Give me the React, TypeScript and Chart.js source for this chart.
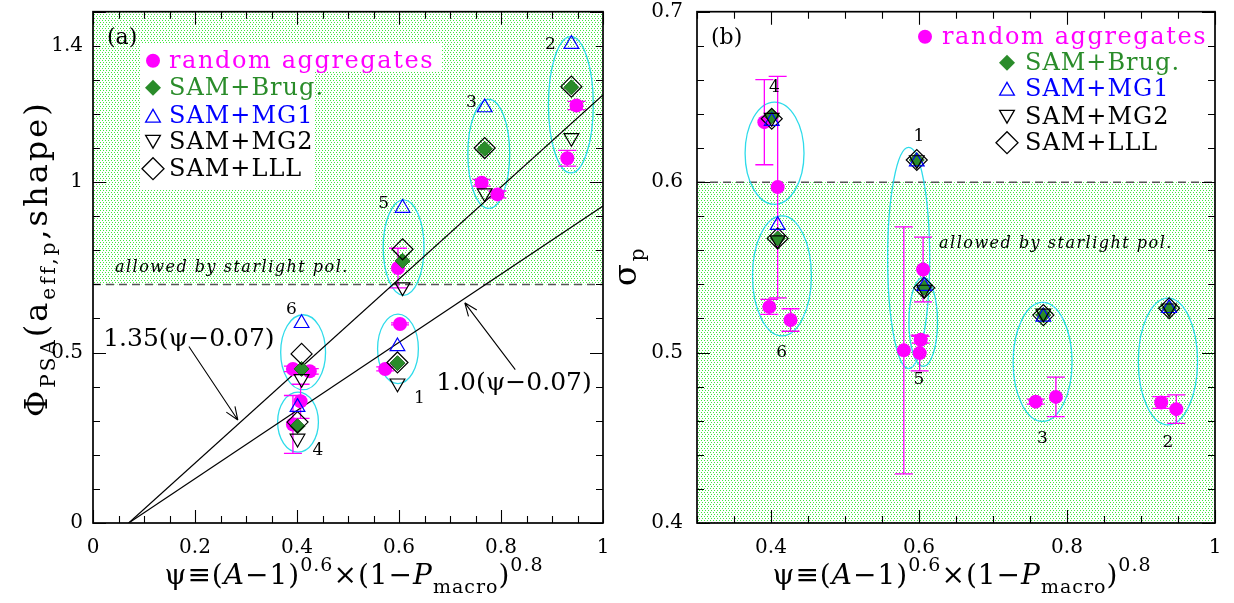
import React, { useEffect, useRef } from "react";
import { Chart, registerables } from "chart.js";

Chart.register(...registerables);

const SERIF = '"DejaVu Serif", "Liberation Serif", serif';
const MAGENTA = "#ff00ff";
const GREEN = "#2a8c2a";
const BLUE = "#0000ff";
const CYAN = "#2edbea";
const HATCH_DOT = "#3ee83e";

// ---------- shared ----------
const CLUSTER_IDS = ["1", "2", "3", "4", "5", "6"];
const SAM_PSI = [0.597, 0.938, 0.768, 0.401, 0.607, 0.409];
const LEGEND_LABELS = ["random aggregates", "SAM+Brug.", "SAM+MG1", "SAM+MG2", "SAM+LLL"];
const LEGEND_COLORS = [MAGENTA, GREEN, BLUE, "#000", "#000"];
const LEGEND_KINDS = ["circle", "brug", "mg1", "mg2", "lll"];
const NOTE_ALLOWED = "allowed by starlight pol.";

// ---------- panel (a) ----------
const A_X_TICKS = [0, 0.2, 0.4, 0.6, 0.8, 1];
const A_X_LABELS = ["0", "0.2", "0.4", "0.6", "0.8", "1"];
const A_Y_TICKS = [0, 0.5, 1, 1.4];
const A_Y_LABELS = ["0", "0.5", "1", "1.4"];
const A_LIMIT = 0.7;
const A_BRUG = [0.469, 1.278, 1.098, 0.284, 0.769, 0.452];
const A_MG1 = [0.518, 1.405, 1.219, 0.34, 0.924, 0.586];
const A_MG2 = [0.41, 1.13, 0.968, 0.248, 0.692, 0.423];
const A_LLL = [0.471, 1.28, 1.1, 0.296, 0.803, 0.496];
const A_RA_PSI = [0.573, 0.602, 0.93, 0.948, 0.762, 0.793, 0.392, 0.407, 0.598, 0.392, 0.425];
const A_RA_PHI = [0.452, 0.584, 1.07, 1.225, 0.998, 0.964, 0.289, 0.357, 0.748, 0.452, 0.445];
const A_RA_ERR = [0.006, 0.003, 0.023, 0.012, 0.01, 0.01, 0.085, 0.05, 0.058, 0.008, 0.008];
const A_FIT_PSI = [0.07, 1.0];
const A_FIT_HI = [0, 1.2555];
const A_FIT_LO = [0, 0.93];
const A_ELL_X = [0.598, 0.937, 0.776, 0.402, 0.609, 0.412];
const A_ELL_Y = [0.511, 1.227, 1.083, 0.296, 0.808, 0.501];
const A_ELL_RX = [0.04, 0.044, 0.041, 0.04, 0.04, 0.044];
const A_ELL_RY = [0.102, 0.2, 0.16, 0.088, 0.14, 0.11];
const A_LAB_X = [0.64, 0.897, 0.742, 0.441, 0.57, 0.389];
const A_LAB_Y = [0.366, 1.405, 1.234, 0.213, 0.937, 0.627];
const A_NOTES = ["1.35(ψ−0.07)", "1.0(ψ−0.07)"];
const A_NOTE_X = [0.02, 0.673];
const A_NOTE_Y = [0.538, 0.41];
const A_ARROW_X0 = [0.188, 0.828];
const A_ARROW_Y0 = [0.518, 0.45];
const A_ARROW_X1 = [0.284, 0.729];
const A_ARROW_Y1 = [0.302, 0.646];
const A_ALLOWED_POS = [0.043, 0.735];

// ---------- panel (b) ----------
const B_X_TICKS = [0.4, 0.6, 0.8, 1];
const B_X_LABELS = ["0.4", "0.6", "0.8", "1"];
const B_Y_TICKS = [0.4, 0.5, 0.6, 0.7];
const B_Y_LABELS = ["0.4", "0.5", "0.6", "0.7"];
const B_LIMIT = 0.6;
const B_BRUG = [0.613, 0.526, 0.522, 0.6387, 0.538, 0.567];
const B_MG1 = [0.612, 0.526, 0.521, 0.6358, 0.539, 0.5748];
const B_MG2 = [0.613, 0.526, 0.523, 0.6378, 0.537, 0.566];
const B_LLL = [0.613, 0.526, 0.522, 0.6372, 0.538, 0.567];
const B_RA_PSI = [0.5795, 0.9273, 0.9477, 0.7577, 0.785, 0.391, 0.409, 0.6055, 0.6023, 0.6009, 0.3977, 0.4264];
const B_RA_SIG = [0.5013, 0.4707, 0.4668, 0.4712, 0.474, 0.6352, 0.5971, 0.5487, 0.5075, 0.4997, 0.5268, 0.5191];
const B_RA_ERR = [0.0725, 0.0034, 0.0084, 0.0015, 0.0116, 0.025, 0.065, 0.019, 0.002, 0.0105, 0.0044, 0.0066];
const B_ELL_X = [0.586, 0.9364, 0.767, 0.4048, 0.6057, 0.4148];
const B_ELL_Y = [0.5555, 0.4948, 0.4945, 0.617, 0.518, 0.545];
const B_ELL_RX = [0.0284, 0.04, 0.0398, 0.0398, 0.0193, 0.0398];
const B_ELL_RY = [0.0649, 0.0372, 0.0349, 0.03, 0.0261, 0.0352];
const B_LAB_X = [0.6, 0.9364, 0.7668, 0.4045, 0.6, 0.4145];
const B_LAB_Y = [0.627, 0.4469, 0.4494, 0.6552, 0.4842, 0.4997];
const B_ALLOWED_POS = [0.627, 0.5613];

type Seg = { t: string; s: number; dy?: number; it?: boolean };
const X_TITLE: Seg[] = [
  { t: "ψ≡(", s: 28 },
  { t: "A", s: 28, it: true },
  { t: "−1)", s: 28 },
  { t: "0.6", s: 19, dy: -13 },
  { t: "×(1−", s: 28 },
  { t: "P", s: 28, it: true },
  { t: "macro", s: 19, dy: 9 },
  { t: ")", s: 28 },
  { t: "0.8", s: 19, dy: -13 },
];
const Y_TITLE_A: Seg[] = [
  { t: "Φ", s: 32 },
  { t: "PSA", s: 20, dy: 8 },
  { t: "(a", s: 32 },
  { t: "eff,p", s: 20, dy: 8 },
  { t: ",shape)", s: 32 },
];
const Y_TITLE_B: Seg[] = [
  { t: "σ", s: 32 },
  { t: "p", s: 20, dy: 8 },
];

function pts(xs: number[], ys: number[]) {
  return xs.map((x, i) => ({ x, y: ys[i] }));
}
function range(a: number, b: number, step: number): number[] {
  const out: number[] = [];
  const n = Math.round((b - a) / step);
  for (let i = 0; i <= n; i++) out.push(+(a + i * step).toFixed(6));
  return out;
}
function isOn(v: number, step: number) {
  const r = v / step;
  return Math.abs(r - Math.round(r)) < 1e-6;
}
function segFont(sg: Seg) {
  return `${sg.it ? "italic " : ""}${sg.s}px ${SERIF}`;
}
function drawRich(ctx: any, segs: Seg[], x: number, y: number, align: string, spacing = 0) {
  ctx.save();
  ctx.textBaseline = "alphabetic";
  ctx.textAlign = "left";
  ctx.letterSpacing = spacing + "px";
  ctx.fillStyle = "#000";
  const widths = segs.map((sg) => {
    ctx.font = segFont(sg);
    return ctx.measureText(sg.t).width;
  });
  const total = widths.reduce((a, b) => a + b, 0);
  let cx = align === "center" ? x - total / 2 : x;
  segs.forEach((sg, i) => {
    ctx.font = segFont(sg);
    ctx.fillText(sg.t, cx, y + (sg.dy || 0));
    cx += widths[i];
  });
  ctx.restore();
}
function diamond(ctx: any, x: number, y: number, r: number) {
  ctx.moveTo(x - r, y);
  ctx.lineTo(x, y - r);
  ctx.lineTo(x + r, y);
  ctx.lineTo(x, y + r);
  ctx.closePath();
}
function tri(ctx: any, x: number, y: number, r: number, down: boolean) {
  const s = down ? -1 : 1;
  const yc = y + s * r * 0.25;
  ctx.moveTo(x, yc - s * r);
  ctx.lineTo(x + r * 0.866, yc + s * r * 0.5);
  ctx.lineTo(x - r * 0.866, yc + s * r * 0.5);
  ctx.closePath();
}
function drawMarker(ctx: any, kind: string, x: number, y: number) {
  ctx.save();
  ctx.lineWidth = 1.3;
  ctx.beginPath();
  if (kind === "circle") {
    ctx.arc(x, y, 7, 0, Math.PI * 2);
    ctx.fillStyle = MAGENTA;
    ctx.fill();
  } else if (kind === "brug") {
    diamond(ctx, x, y, 8);
    ctx.fillStyle = GREEN;
    ctx.fill();
  } else if (kind === "mg1") {
    tri(ctx, x, y, 8.5, false);
    ctx.strokeStyle = BLUE;
    ctx.stroke();
  } else if (kind === "mg2") {
    tri(ctx, x, y, 8.5, true);
    ctx.strokeStyle = "#000";
    ctx.stroke();
  } else {
    diamond(ctx, x, y, 11);
    ctx.strokeStyle = "#000";
    ctx.stroke();
  }
  ctx.restore();
}
function drawLegend(ctx: any, mx: number[], tx: number[], ys: number[]) {
  LEGEND_LABELS.forEach((label, i) => {
    drawMarker(ctx, LEGEND_KINDS[i], mx[i], ys[i]);
    ctx.save();
    ctx.font = `24px ${SERIF}`;
    ctx.letterSpacing = (i === 0 ? 1.6 : 1) + "px";
    ctx.fillStyle = LEGEND_COLORS[i];
    ctx.textAlign = "left";
    ctx.textBaseline = "middle";
    ctx.fillText(label, tx[i], ys[i] + 1);
    ctx.restore();
  });
}
function makeHatch(ctx: any) {
  const t = document.createElement("canvas");
  t.width = 6;
  t.height = 4;
  const g = t.getContext("2d")!;
  g.fillStyle = "#ffffff";
  g.fillRect(0, 0, 6, 4);
  g.fillStyle = HATCH_DOT;
  g.fillRect(0, 0, 1, 1);
  g.fillRect(3, 0, 1, 1);
  g.fillRect(1, 2, 1, 1);
  g.fillRect(4, 2, 1, 1);
  return ctx.createPattern(t, "repeat");
}
function drawBand(chart: any, from: number, to: number, limit: number) {
  const { ctx, chartArea: ca, scales } = chart;
  const y = scales.y;
  const p0 = y.getPixelForValue(from);
  const p1 = y.getPixelForValue(to);
  ctx.save();
  ctx.fillStyle = makeHatch(ctx);
  ctx.fillRect(ca.left, Math.min(p0, p1), ca.width, Math.abs(p1 - p0));
  const py = y.getPixelForValue(limit);
  ctx.strokeStyle = "#555";
  ctx.lineWidth = 1.5;
  ctx.setLineDash([8, 5]);
  ctx.beginPath();
  ctx.moveTo(ca.left, py);
  ctx.lineTo(ca.right, py);
  ctx.stroke();
  ctx.restore();
}
function drawEllipses(chart: any, ex: number[], ey: number[], rx: number[], ry: number[]) {
  const { ctx, scales } = chart;
  const x = scales.x, y = scales.y;
  ctx.save();
  ctx.strokeStyle = CYAN;
  ctx.lineWidth = 1.3;
  ex.forEach((cx, i) => {
    const px = x.getPixelForValue(cx);
    const py = y.getPixelForValue(ey[i]);
    const rpx = Math.abs(x.getPixelForValue(cx + rx[i]) - px);
    const rpy = Math.abs(y.getPixelForValue(ey[i] + ry[i]) - py);
    ctx.beginPath();
    ctx.ellipse(px, py, rpx, rpy, 0, 0, Math.PI * 2);
    ctx.stroke();
  });
  ctx.restore();
}
function drawErrors(chart: any, xs: number[], ys: number[], es: number[]) {
  const { ctx, scales } = chart;
  const x = scales.x, y = scales.y;
  ctx.save();
  ctx.strokeStyle = MAGENTA;
  ctx.lineWidth = 1.3;
  ctx.beginPath();
  xs.forEach((v, i) => {
    const px = x.getPixelForValue(v);
    const pa = y.getPixelForValue(ys[i] + es[i]);
    const pb = y.getPixelForValue(ys[i] - es[i]);
    ctx.moveTo(px, pa);
    ctx.lineTo(px, pb);
    ctx.moveTo(px - 9, pa);
    ctx.lineTo(px + 9, pa);
    ctx.moveTo(px - 9, pb);
    ctx.lineTo(px + 9, pb);
  });
  ctx.stroke();
  ctx.restore();
}
function drawFrame(chart: any, xMinor: number[], xMajorStep: number, yMinor: number[], yMajorStep: number) {
  const { ctx, chartArea: ca, scales } = chart;
  const x = scales.x, y = scales.y;
  ctx.save();
  ctx.strokeStyle = "#000";
  ctx.lineWidth = 1.1;
  ctx.beginPath();
  xMinor.forEach((v) => {
    const px = Math.round(x.getPixelForValue(v)) + 0.5;
    const len = isOn(v, xMajorStep) ? 13 : 7;
    ctx.moveTo(px, ca.bottom);
    ctx.lineTo(px, ca.bottom - len);
    ctx.moveTo(px, ca.top);
    ctx.lineTo(px, ca.top + len);
  });
  yMinor.forEach((v) => {
    const py = Math.round(y.getPixelForValue(v)) + 0.5;
    const len = isOn(v, yMajorStep) ? 13 : 7;
    ctx.moveTo(ca.left, py);
    ctx.lineTo(ca.left + len, py);
    ctx.moveTo(ca.right, py);
    ctx.lineTo(ca.right - len, py);
  });
  ctx.stroke();
  ctx.lineWidth = 1.7;
  ctx.strokeRect(ca.left, ca.top, ca.width, ca.height);
  ctx.restore();
}
function drawTickLabels(chart: any, xt: number[], xl: string[], yt: number[], yl: string[], gap: number) {
  const { ctx, chartArea: ca, scales } = chart;
  const x = scales.x, y = scales.y;
  ctx.save();
  ctx.font = `20px ${SERIF}`;
  ctx.fillStyle = "#000";
  ctx.textBaseline = "middle";
  ctx.textAlign = "center";
  xt.forEach((v, i) => ctx.fillText(xl[i], x.getPixelForValue(v), ca.bottom + 25));
  ctx.textAlign = "right";
  yt.forEach((v, i) => ctx.fillText(yl[i], ca.left - gap, y.getPixelForValue(v)));
  ctx.restore();
}
function drawClusterLabels(chart: any, lx: number[], ly: number[]) {
  const { ctx, scales } = chart;
  ctx.save();
  ctx.font = `17px ${SERIF}`;
  ctx.fillStyle = "#000";
  ctx.textAlign = "center";
  ctx.textBaseline = "middle";
  CLUSTER_IDS.forEach((id, i) => ctx.fillText(id, scales.x.getPixelForValue(lx[i]), scales.y.getPixelForValue(ly[i])));
  ctx.restore();
}
function drawAllowed(chart: any, pos: number[]) {
  const { ctx, scales } = chart;
  ctx.save();
  ctx.font = `italic 16px ${SERIF}`;
  ctx.letterSpacing = "1.5px";
  ctx.fillStyle = "#000";
  ctx.textAlign = "left";
  ctx.textBaseline = "alphabetic";
  ctx.fillText(NOTE_ALLOWED, scales.x.getPixelForValue(pos[0]), scales.y.getPixelForValue(pos[1]));
  ctx.restore();
}
function drawPanelTag(chart: any, tag: string) {
  const { ctx, chartArea: ca } = chart;
  ctx.save();
  ctx.font = `22px ${SERIF}`;
  ctx.fillStyle = "#000";
  ctx.textAlign = "left";
  ctx.textBaseline = "middle";
  ctx.fillText(tag, ca.left + 14, ca.top + 27);
  ctx.restore();
}
function drawTitles(chart: any, ySegs: Seg[], yTitleX: number, yTitleY: number) {
  const { ctx, chartArea: ca } = chart;
  drawRich(ctx, X_TITLE, ca.left + ca.width / 2 + 6, ca.bottom + 61, "center", 1);
  ctx.save();
  ctx.translate(yTitleX, yTitleY);
  ctx.rotate(-Math.PI / 2);
  drawRich(ctx, ySegs, 0, 0, "center", 3);
  ctx.restore();
}

function samDatasets(brug: number[], mg1: number[], mg2: number[], lll: number[]) {
  const clear = "rgba(0,0,0,0)";
  return [
    { label: "SAM+MG2", data: pts(SAM_PSI, mg2), pointStyle: "triangle", pointRotation: 180, pointRadius: 8.5, pointBorderColor: "#000", pointBackgroundColor: clear, pointBorderWidth: 1.2, order: 1 },
    { label: "SAM+MG1", data: pts(SAM_PSI, mg1), pointStyle: "triangle", pointRadius: 8.5, pointBorderColor: BLUE, pointBackgroundColor: clear, pointBorderWidth: 1.2, order: 2 },
    { label: "SAM+LLL", data: pts(SAM_PSI, lll), pointStyle: "rectRot", pointRadius: 10.5, pointBorderColor: "#000", pointBackgroundColor: clear, pointBorderWidth: 1.2, order: 3 },
    { label: "SAM+Brug.", data: pts(SAM_PSI, brug), pointStyle: "rectRot", pointRadius: 7.5, pointBorderColor: "#1d6b1d", pointBackgroundColor: GREEN, pointBorderWidth: 1, order: 4 },
  ];
}
function circleDataset(xs: number[], ys: number[]) {
  return { label: "random aggregates", data: pts(xs, ys), pointStyle: "circle", pointRadius: 7, pointBorderColor: MAGENTA, pointBackgroundColor: MAGENTA, pointBorderWidth: 0, order: 5 };
}
function lineDataset(xs: number[], ys: number[]) {
  return { label: "fit", data: pts(xs, ys), showLine: true, borderColor: "#000", borderWidth: 1.2, pointRadius: 0, fill: false, order: 6 };
}
function makeConfig(datasets: any[], xr: number[], yr: number[], padding: any, plugin: any) {
  return {
    type: "scatter",
    data: { datasets },
    options: {
      responsive: false,
      animation: false,
      devicePixelRatio: 1,
      events: [],
      layout: { padding },
      plugins: { legend: { display: false }, tooltip: { enabled: false } },
      scales: {
        x: { type: "linear", min: xr[0], max: xr[1], display: false },
        y: { type: "linear", min: yr[0], max: yr[1], display: false },
      },
    },
    plugins: [plugin],
  } as any;
}

const decorA = {
  id: "decorA",
  beforeDatasetsDraw(chart: any) {
    const { ctx, chartArea: ca } = chart;
    drawBand(chart, A_LIMIT, 1.5, A_LIMIT);
    ctx.save();
    ctx.fillStyle = "#fff";
    ctx.fillRect(ca.left + 47, ca.top + 32, 302, 28);
    ctx.fillRect(ca.left + 47, ca.top + 59, 174, 119);
    ctx.restore();
    drawAllowed(chart, A_ALLOWED_POS);
    drawEllipses(chart, A_ELL_X, A_ELL_Y, A_ELL_RX, A_ELL_RY);
    drawErrors(chart, A_RA_PSI, A_RA_PHI, A_RA_ERR);
  },
  afterDatasetsDraw(chart: any) {
    const { ctx, chartArea: ca, scales } = chart;
    const x = scales.x, y = scales.y;
    drawFrame(chart, range(0, 1, 0.05), 0.2, range(0, 1.5, 0.1), 0.5);
    drawTickLabels(chart, A_X_TICKS, A_X_LABELS, A_Y_TICKS, A_Y_LABELS, 10);
    drawClusterLabels(chart, A_LAB_X, A_LAB_Y);
    ctx.save();
    ctx.font = `25px ${SERIF}`;
    ctx.fillStyle = "#000";
    ctx.textAlign = "left";
    ctx.textBaseline = "middle";
    A_NOTES.forEach((t, i) => ctx.fillText(t, x.getPixelForValue(A_NOTE_X[i]), y.getPixelForValue(A_NOTE_Y[i])));
    ctx.strokeStyle = "#000";
    ctx.lineWidth = 1.1;
    A_ARROW_X0.forEach((x0, i) => {
      const ax = x.getPixelForValue(x0), ay = y.getPixelForValue(A_ARROW_Y0[i]);
      const bx = x.getPixelForValue(A_ARROW_X1[i]), by = y.getPixelForValue(A_ARROW_Y1[i]);
      const ang = Math.atan2(by - ay, bx - ax);
      ctx.beginPath();
      ctx.moveTo(ax, ay);
      ctx.lineTo(bx, by);
      [0.38, -0.38].forEach((d) => {
        ctx.moveTo(bx, by);
        ctx.lineTo(bx - 14 * Math.cos(ang + d), by - 14 * Math.sin(ang + d));
      });
      ctx.stroke();
    });
    ctx.restore();
    drawLegend(
      ctx,
      [60, 60, 60, 60, 60].map((d) => ca.left + d),
      [76, 76, 76, 76, 76].map((d) => ca.left + d),
      [49, 76, 104, 130, 157].map((d) => ca.top + d)
    );
    drawPanelTag(chart, "(a)");
    drawTitles(chart, Y_TITLE_A, 47, ca.top + 247);
  },
};

const decorB = {
  id: "decorB",
  beforeDatasetsDraw(chart: any) {
    drawBand(chart, 0.4, B_LIMIT, B_LIMIT);
    drawAllowed(chart, B_ALLOWED_POS);
    drawEllipses(chart, B_ELL_X, B_ELL_Y, B_ELL_RX, B_ELL_RY);
    drawErrors(chart, B_RA_PSI, B_RA_SIG, B_RA_ERR);
  },
  afterDatasetsDraw(chart: any) {
    const { ctx, chartArea: ca } = chart;
    drawFrame(chart, range(0.3, 1, 0.05), 0.2, range(0.4, 0.7, 0.02), 0.1);
    drawTickLabels(chart, B_X_TICKS, B_X_LABELS, B_Y_TICKS, B_Y_LABELS, 14);
    drawClusterLabels(chart, B_LAB_X, B_LAB_Y);
    drawLegend(
      ctx,
      [228, 310, 310, 310, 310].map((d) => ca.left + d),
      [245, 328, 328, 328, 328].map((d) => ca.left + d),
      [25, 51, 77, 105, 131].map((d) => ca.top + d)
    );
    drawPanelTag(chart, "(b)");
    drawTitles(chart, Y_TITLE_B, 19, ca.top + 254);
  },
};

export default function App() {
  const refA = useRef<HTMLCanvasElement>(null);
  const refB = useRef<HTMLCanvasElement>(null);
  useEffect(() => {
    const dsA = [
      ...samDatasets(A_BRUG, A_MG1, A_MG2, A_LLL),
      circleDataset(A_RA_PSI, A_RA_PHI),
      lineDataset(A_FIT_PSI, A_FIT_HI),
      lineDataset(A_FIT_PSI, A_FIT_LO),
    ];
    const dsB = [...samDatasets(B_BRUG, B_MG1, B_MG2, B_LLL), circleDataset(B_RA_PSI, B_RA_SIG)];
    const a = new Chart(refA.current!, makeConfig(dsA, [0, 1], [0, 1.5], { left: 93, top: 8, right: 14, bottom: 80 }, decorA));
    const b = new Chart(refB.current!, makeConfig(dsB, [0.3, 1], [0.4, 0.7], { left: 80, top: 8, right: 19, bottom: 80 }, decorB));
    return () => {
      a.destroy();
      b.destroy();
    };
  }, []);
  return (
    <div style={{ position: "absolute", left: 0, top: 0, width: 1234, height: 603, background: "#fff" }}>
      <canvas ref={refA} width={617} height={603} style={{ position: "absolute", left: 0, top: 0, width: 617, height: 603 }} />
      <canvas ref={refB} width={617} height={603} style={{ position: "absolute", left: 617, top: 0, width: 617, height: 603 }} />
    </div>
  );
}
